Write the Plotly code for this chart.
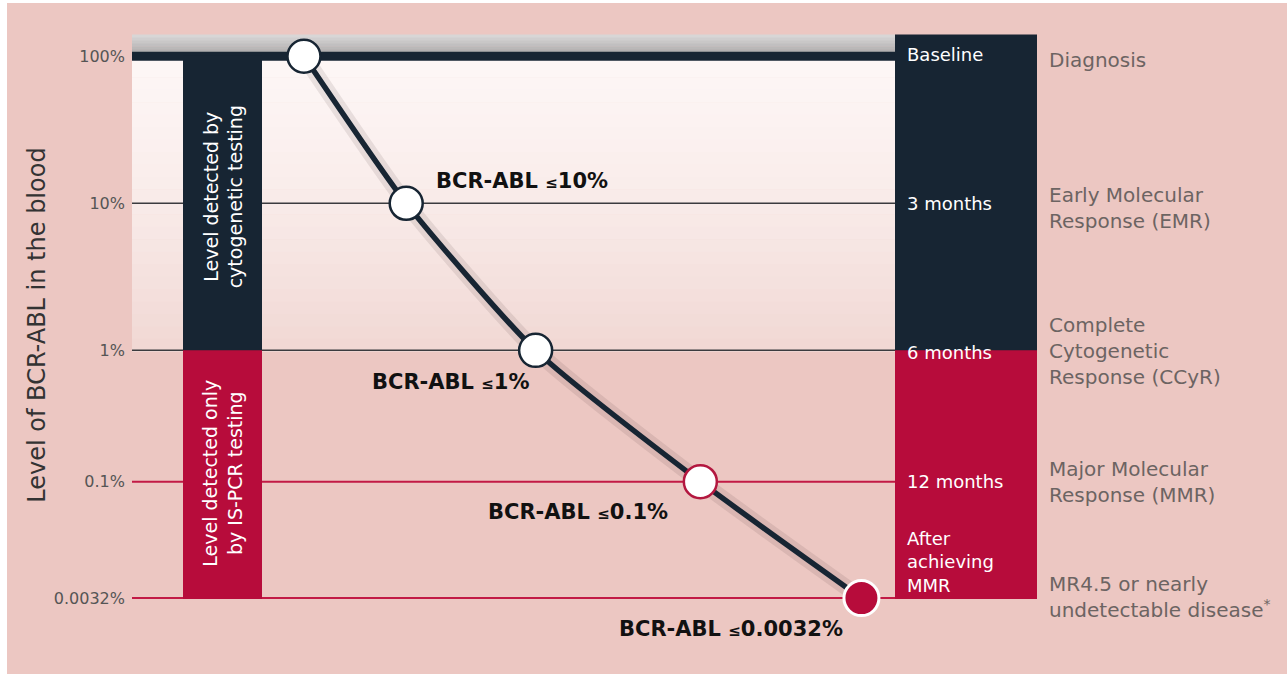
import plotly.graph_objects as go

W, H = 1287, 683

# ---------------- data ----------------
stages = ["Baseline", "3 months", "6 months", "12 months", "After<br>achieving<br>MMR"]
level_labels = ["100%", "10%", "1%", "0.1%", "0.0032%"]
# schematic time position of each assessment (arbitrary units)
time_pos = [1.9, 3.03, 4.46, 6.28, 8.06]
# position of each level on the chart's (non-proportional) vertical scale
level_pos = [0.0, -1.0, -2.0, -2.893, -3.685]
point_labels = ["", "BCR-ABL <span style='font-size:15px'>≤</span>10%",
                "BCR-ABL <span style='font-size:15px'>≤</span>1%",
                "BCR-ABL <span style='font-size:15px'>≤</span>0.1%",
                "BCR-ABL <span style='font-size:15px'>≤</span>0.0032%"]
milestones = ["Diagnosis", "Early Molecular<br>Response (EMR)",
              "Complete<br>Cytogenetic<br>Response (CCyR)",
              "Major Molecular<br>Response (MMR)",
              "MR4.5 or nearly<br>undetectable disease<sup>*</sup>"]
bar_texts = ["Level detected by<br>cytogenetic testing",
             "Level detected only<br>by IS-PCR testing"]

# ---------------- styling ----------------
NAVY = "#172533"
RED = "#B70C3B"
PINK = "#ECC7C2"
GREY_TXT = "#6C6462"
FONT = "DejaVu Sans"

def xp(px):
    return px / W

def yp(py):
    return 1 - py / H

def mix(c1, c2, t):
    a = [int(c1[i:i + 2], 16) for i in (1, 3, 5)]
    b = [int(c2[i:i + 2], 16) for i in (1, 3, 5)]
    return "#" + "".join(f"{round(a[k] + (b[k] - a[k]) * t):02x}" for k in range(3))

shapes = []

def rect(x0, y0, x1, y1, color):
    shapes.append(dict(type="rect", xref="paper", yref="paper", x0=xp(x0), x1=xp(x1),
                       y0=yp(y1), y1=yp(y0), fillcolor=color, line=dict(width=0), layer="below"))

# page background
rect(7, 3, W, H, PINK)
# gradient panel above 1%
n = 24
top, bot = 53, 356
for i in range(n):
    y0 = top + (bot - top) * i / n
    y1 = top + (bot - top) * (i + 1) / n + 0.5
    rect(132, y0, 895, y1, mix("#FDF6F5", "#F1D8D4", (i / (n - 1)) ** 1.4))
# grey band
for i in range(6):
    y0 = 35 + 18 * i / 6
    rect(132, y0, 895, y0 + 3.5, mix("#D8D6D6", "#B2B0B1", i / 5))

# horizontal level lines
line_colors = [NAVY, "#3B3B3E", "#3B3B3E", "#C21A45", "#C21A45"]
line_widths = [9, 1.5, 1.5, 2, 2]
for lv, c, w in zip(level_pos, line_colors, line_widths):
    shapes.append(dict(type="line", xref="paper", yref="y", x0=xp(132), x1=xp(895),
                       y0=lv, y1=lv, line=dict(color=c, width=w), layer="below"))

# left bars
rect(183, 56, 262, 356, NAVY)
rect(183, 355, 262, 607, RED)
# right stage column
rect(895, 35, 1037, 356, NAVY)
rect(895, 355, 1037, 607, RED)

fig = go.Figure()

# soft shadow under the response curve
fig.add_trace(go.Scatter(
    x=time_pos, y=level_pos, mode="lines",
    line=dict(color="rgba(60,40,40,0.10)", width=16, shape="spline", smoothing=0.6),
    hoverinfo="skip", showlegend=False, cliponaxis=False))

fig.add_trace(go.Scatter(
    x=time_pos, y=level_pos, mode="lines",
    line=dict(color=NAVY, width=5.5, shape="spline", smoothing=0.6),
    hoverinfo="skip", showlegend=False, cliponaxis=False))

fig.add_trace(go.Scatter(
    x=time_pos, y=level_pos, mode="markers",
    marker=dict(size=[33, 33, 33, 33, 35], opacity=1,
                color=["white", "white", "white", "white", RED],
                line=dict(color=[NAVY, NAVY, NAVY, "#B3173F", "white"], width=[2.5, 2.5, 2.5, 2.5, 3])),
    text=stages, hoverinfo="text", showlegend=False, cliponaxis=False))

annotations = []
# point labels
label_centres = [None, (522, 183), (451, 387), (578, 519), (731, 637)]
for txt, c in zip(point_labels, label_centres):
    if c is None:
        continue
    annotations.append(dict(text=txt, xref="paper", yref="paper", x=xp(c[0]), y=yp(c[1]),
                            xanchor="center", yanchor="middle", showarrow=False,
                            font=dict(family=FONT, size=21, color="#111111", weight="bold")))

# stage texts in right column
stage_y = [55, 206, 357, 488, 570]
for s, y in zip(stages, stage_y):
    annotations.append(dict(text=s, xref="paper", yref="paper", x=xp(905), y=yp(y),
                            xanchor="left", yanchor="middle", showarrow=False, align="left",
                            font=dict(family=FONT, size=18, color="white")))

# milestone descriptions
ms_y = [61, 211, 356, 488, 605]
for s, y in zip(milestones, ms_y):
    annotations.append(dict(text=s, xref="paper", yref="paper", x=xp(1047), y=yp(y),
                            xanchor="left", yanchor="middle", showarrow=False, align="left",
                            font=dict(family=FONT, size=20, color=GREY_TXT)))

# rotated bar texts
for t, yc in zip(bar_texts, [200, 480]):
    annotations.append(dict(text=t, xref="paper", yref="paper", x=xp(223), y=yp(yc),
                            xanchor="center", yanchor="middle", showarrow=False, textangle=-90,
                            font=dict(family=FONT, size=19, color="white")))

# y-axis title
annotations.append(dict(text="Level of BCR-ABL in the blood", xref="paper", yref="paper",
                        x=xp(37), y=yp(330), xanchor="center", yanchor="middle", showarrow=False,
                        textangle=-90, font=dict(family=FONT, size=24, color="#333333")))

fig.update_layout(
    width=W, height=H,
    margin=dict(l=0, r=0, t=0, b=0),
    paper_bgcolor="white", plot_bgcolor="rgba(0,0,0,0)",
    shapes=shapes, annotations=annotations,
    xaxis=dict(domain=[xp(132), xp(1037)], range=[0, 10], visible=False, fixedrange=True),
    yaxis=dict(domain=[yp(607), yp(35)], range=[-3.691, 0.148],
               tickvals=level_pos, ticktext=level_labels, showgrid=False, zeroline=False,
               showline=False, ticks="", ticklabelstandoff=6,
               tickfont=dict(family=FONT, size=16, color="#555555"), fixedrange=True),
    showlegend=False,
)

fig.write_html("out.html")
